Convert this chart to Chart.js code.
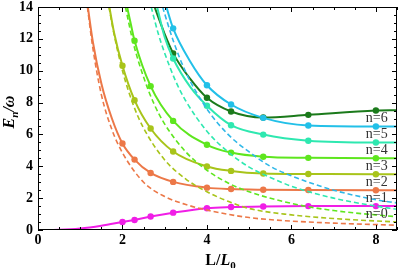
<!DOCTYPE html>
<html>
<head>
<meta charset="utf-8">
<script src="https://cdn.jsdelivr.net/npm/chart.js@4"></script>
<style>
  html, body { margin: 0; padding: 0; background: #fff; }
  canvas { display: block; }
</style>
</head>
<body>
<canvas id="grafico" width="399" height="268"></canvas>
<script>
// ---------- data ----------
// L/L0 values where the markers sit
const markL = [2, 2.286, 2.667, 3.2, 4, 4.571, 5.333, 6.4, 8];

// solid curves E_n/omega (L samples + values)
const n0L = [0, 0.5, 1, 1.5, 2, 2.286, 2.667, 3.2, 4, 4.571, 5.333, 6.4, 8, 8.5];
const n0E = [0, 0.02, 0.1, 0.27, 0.5, 0.63, 0.85, 1.09, 1.37, 1.44, 1.48, 1.5, 1.5, 1.5];

const n1L = [1.18, 1.3, 1.5, 1.75, 2, 2.286, 2.667, 3.2, 4, 4.571, 5.333, 6.4, 8, 8.5];
const n1E = [14, 11.8, 9.2, 7.0, 5.43, 4.42, 3.58, 3.02, 2.66, 2.57, 2.53, 2.51, 2.5, 2.5];

const n2L = [1.69, 1.8, 2, 2.286, 2.667, 3.2, 4, 4.571, 5.333, 6.4, 8, 8.5];
const n2E = [14, 12.4, 10.31, 8.15, 6.37, 4.93, 3.99, 3.71, 3.55, 3.52, 3.5, 3.5];

const n3L = [2.11, 2.2, 2.286, 2.667, 3.2, 4, 4.571, 5.333, 6.4, 8, 8.5];
const n3E = [14, 12.9, 11.88, 9.03, 6.85, 5.35, 4.86, 4.6, 4.53, 4.5, 4.5];

const n4L = [2.82, 3.0, 3.2, 3.6, 4, 4.571, 5.333, 6.4, 8, 8.5];
const n4E = [14, 12.1, 10.77, 9.0, 7.8, 6.58, 5.99, 5.6, 5.49, 5.49];

const n5L = [3.04, 3.2, 3.6, 4, 4.571, 5.333, 6.4, 8, 8.5];
const n5E = [14, 12.66, 10.6, 9.09, 7.88, 7.04, 6.56, 6.5, 6.5];

const n6L = [2.76, 3.0, 3.2, 3.6, 4, 4.571, 5.333, 6.4, 8, 8.5];
const n6E = [14, 12.3, 11.09, 9.5, 8.3, 7.44, 7.06, 7.23, 7.5, 7.52];

// dashed curves
const d1L = [1.17, 1.3, 1.5, 1.75, 2, 2.5, 3, 3.5, 4, 5, 6, 7, 8.5];
const d1E = [14, 11.4, 8.5, 6.3, 4.85, 3.0, 2.1, 1.6, 1.25, 0.78, 0.56, 0.43, 0.3];

const d2L = [1.68, 1.8, 2, 2.25, 2.5, 3, 3.5, 4, 4.5, 5, 6, 7, 8.5];
const d2E = [14, 12.3, 10.0, 7.9, 6.4, 4.4, 3.2, 2.4, 1.8, 1.35, 0.95, 0.72, 0.5];

const d3L = [2.07, 2.25, 2.5, 2.75, 3, 3.5, 4, 4.5, 5, 6, 7, 8.5];
const d3E = [14, 11.8, 9.6, 7.9, 6.65, 4.9, 3.75, 2.95, 2.4, 1.67, 1.22, 0.83];

const d4L = [2.68, 2.85, 3, 3.25, 3.5, 4, 4.5, 5, 5.5, 6, 7, 8, 8.5];
const d4E = [14, 12.3, 11.1, 9.4, 8.1, 6.2, 4.9, 3.95, 3.3, 2.75, 2.0, 1.5, 1.3];

const d5L = [2.95, 3.2, 3.5, 4, 4.5, 5, 5.5, 6, 7, 8, 8.5];
const d5E = [14, 11.9, 9.9, 7.6, 6.0, 4.9, 4.0, 3.4, 2.5, 1.9, 1.7];

// axis ticks and level labels
const xTicks = [0, 2, 4, 6, 8];
const yTicks = [0, 2, 4, 6, 8, 10, 12, 14];
const levelNames = ["n=0", "n=1", "n=2", "n=3", "n=4", "n=5", "n=6"];
const levelAt = [1, 2, 3, 4, 5, 6, 7];

// ---------- build datasets ----------
const pts = (L, E) => L.map((x, i) => ({ x, y: E[i] }));

const solidCurves = [
  [n0L, n0E, "#f01ee6"],
  [n1L, n1E, "#ec7848"],
  [n2L, n2E, "#a8c41a"],
  [n3L, n3E, "#5ee61e"],
  [n4L, n4E, "#2ee8b0"],
  [n5L, n5E, "#22c0e8"],
  [n6L, n6E, "#1b7a1b"]
];
const dashedCurves = [
  [d1L, d1E, "#ec7848"],
  [d2L, d2E, "#a8c41a"],
  [d3L, d3E, "#5ee61e"],
  [d4L, d4E, "#2ee8b0"],
  [d5L, d5E, "#30b8e8"]
];

const datasets = [];
dashedCurves.forEach(([L, E, c]) => {
  datasets.push({
    data: pts(L, E),
    borderColor: c,
    borderWidth: 1.6,
    borderDash: [5, 3],
    pointRadius: 0,
    cubicInterpolationMode: "monotone"
  });
});
solidCurves.forEach(([L, E, c]) => {
  datasets.push({
    data: pts(L, E),
    borderColor: c,
    backgroundColor: c,
    borderWidth: 2,
    pointRadius: (ctx) => (ctx.raw && markL.includes(ctx.raw.x) ? 3.2 : 0),
    pointBorderWidth: 0,
    cubicInterpolationMode: "monotone"
  });
});

// ---------- frame, inward ticks, labels ----------
const framePlugin = {
  id: "frame",
  afterDatasetsDraw(chart) {
    const { ctx, chartArea: a, scales: { x, y } } = chart;
    ctx.save();
    ctx.strokeStyle = "#000";
    ctx.lineWidth = 1;
    ctx.strokeRect(a.left + 0.5, a.top + 0.5, a.right - a.left - 1, a.bottom - a.top - 1);

    ctx.beginPath();
    for (let v = 0; v <= 8.5; v += 0.5) {
      const px = Math.round(x.getPixelForValue(v)) + 0.5;
      const len = v % 2 === 0 ? 5 : 3;
      ctx.moveTo(px, a.bottom); ctx.lineTo(px, a.bottom - len);
      ctx.moveTo(px, a.top); ctx.lineTo(px, a.top + len);
    }
    for (let v = 0; v <= 14; v += 0.5) {
      const py = Math.round(y.getPixelForValue(v)) + 0.5;
      const len = v % 2 === 0 ? 5 : 3;
      ctx.moveTo(a.left, py); ctx.lineTo(a.left + len, py);
      ctx.moveTo(a.right, py); ctx.lineTo(a.right - len, py);
    }
    ctx.stroke();

    // n= labels
    ctx.fillStyle = "#333";
    ctx.font = "14px 'Liberation Serif', serif";
    ctx.textAlign = "center";
    ctx.textBaseline = "middle";
    levelNames.forEach((t, i) => {
      ctx.fillText(t, x.getPixelForValue(8.02), y.getPixelForValue(levelAt[i]));
    });

    // axis titles
    ctx.fillStyle = "#000";
    ctx.textAlign = "left";
    ctx.textBaseline = "alphabetic";
    const cx = (a.left + a.right) / 2 + 3;
    const parts = [
      ["bold 16px 'Liberation Serif', serif", "L/", 0],
      ["italic bold 16px 'Liberation Serif', serif", "L", 0],
      ["bold 11px 'Liberation Serif', serif", "0", 4]
    ];
    let w = 0;
    parts.forEach(([f, t]) => { ctx.font = f; w += ctx.measureText(t).width; });
    let px = cx - w / 2;
    parts.forEach(([f, t, dy]) => {
      ctx.font = f;
      ctx.fillText(t, px, 265 + dy);
      px += ctx.measureText(t).width;
    });

    ctx.translate(14, 112);
    ctx.rotate(-Math.PI / 2);
    const yparts = [
      ["italic bold 16px 'Liberation Serif', serif", "E", 0],
      ["italic bold 11px 'Liberation Serif', serif", "n", 4],
      ["italic bold 16px 'Liberation Serif', serif", "/ω", 0]
    ];
    w = 0;
    yparts.forEach(([f, t]) => { ctx.font = f; w += ctx.measureText(t).width; });
    px = -w / 2;
    yparts.forEach(([f, t, dy]) => {
      ctx.font = f;
      ctx.fillText(t, px, dy);
      px += ctx.measureText(t).width;
    });
    ctx.restore();
  }
};

new Chart(document.getElementById("grafico"), {
  type: "line",
  data: { datasets },
  options: {
    responsive: false,
    animation: false,
    devicePixelRatio: 1,
    layout: { padding: { top: 7, right: 2, left: 0, bottom: 0 } },
    plugins: { legend: { display: false }, tooltip: { enabled: false } },
    scales: {
      x: {
        type: "linear",
        min: 0,
        max: 8.5,
        afterBuildTicks: (s) => { s.ticks = xTicks.map((v) => ({ value: v })); },
        afterFit: (s) => { s.height = 38; s.paddingLeft = 0; s.paddingRight = 0; },
        grid: { display: false, drawTicks: false },
        border: { display: false },
        ticks: { padding: 2, color: "#000", font: { family: "'Liberation Serif', serif", size: 14, weight: "bold" } }
      },
      y: {
        min: 0,
        max: 14,
        afterBuildTicks: (s) => { s.ticks = yTicks.map((v) => ({ value: v })); },
        afterFit: (s) => { s.width = 38; s.paddingTop = 0; s.paddingBottom = 0; },
        grid: { display: false, drawTicks: false },
        border: { display: false },
        ticks: { padding: 5, color: "#000", font: { family: "'Liberation Serif', serif", size: 14, weight: "bold" } }
      }
    }
  },
  plugins: [framePlugin]
});
</script>
</body>
</html>
